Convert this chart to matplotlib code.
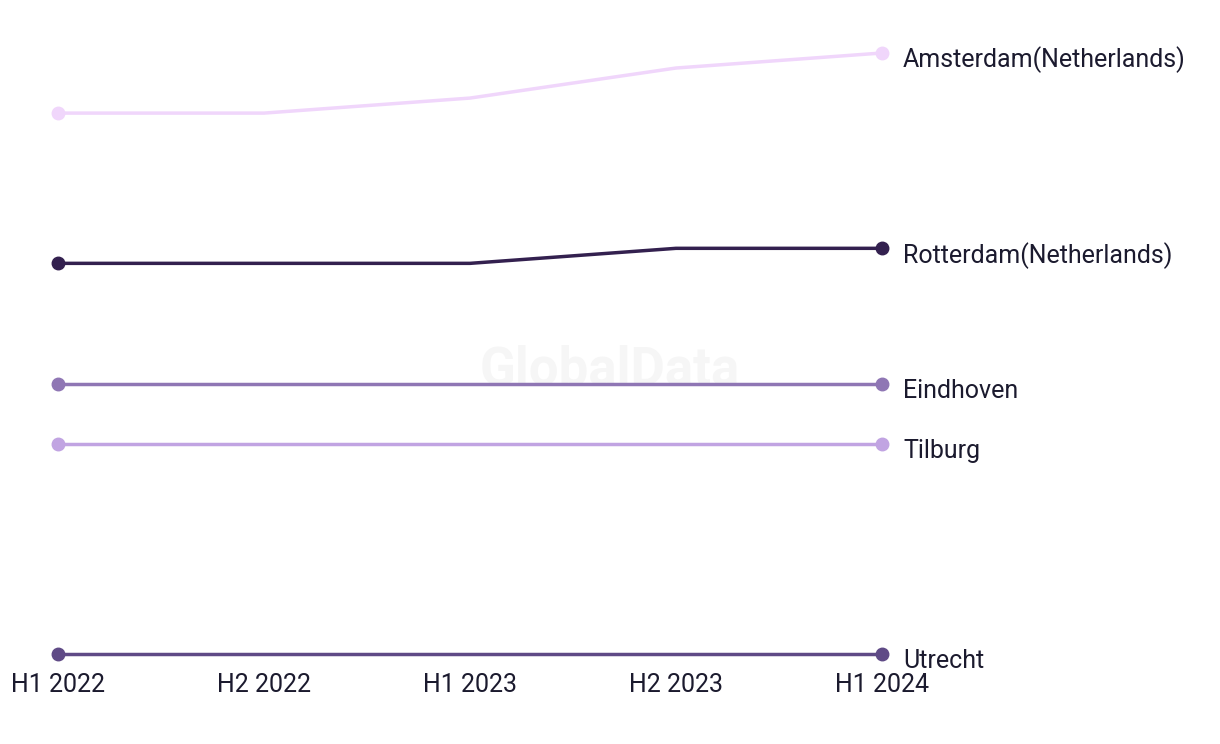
import matplotlib.pyplot as plt

periods = ["H1 2022", "H2 2022", "H1 2023", "H2 2023", "H1 2024"]

cities = ["Amsterdam(Netherlands)", "Rotterdam(Netherlands)", "Eindhoven", "Tilburg", "Utrecht"]
amsterdam = [36, 36, 37, 39, 40]
rotterdam = [26, 26, 26, 27, 27]
eindhoven = [18, 18, 18, 18, 18]
tilburg = [14, 14, 14, 14, 14]
utrecht = [0, 0, 0, 0, 0]
series = [amsterdam, rotterdam, eindhoven, tilburg, utrecht]
colors = ["#f0d6fb", "#33204f", "#8f76b4", "#c1a4e2", "#5f4a86"]

plt.rcParams['font.family'] = ['Roboto', 'DejaVu Sans']

fig = plt.figure(figsize=(12.2, 7.44), dpi=100)
W, H = 1220, 744
ax = fig.add_axes([58 / W, (H - 654) / H, 824 / W, 601 / H])

# watermark behind the lines
ax.text(610 / W, 1 - 370 / H, "GlobalData", transform=fig.transFigure, ha="center", va="center",
        fontsize=38, fontweight="bold", color="#f6f6f6", zorder=0)

x = list(range(len(periods)))
for name, vals, c in zip(cities, series, colors):
    ax.plot(x, vals, color=c, lw=2.5, marker="o", markersize=9, zorder=3,
            markevery=[0, len(x) - 1], clip_on=False, solid_capstyle="round")
    ax.annotate(name, xy=(x[-1], vals[-1]), xytext=(21, -7), textcoords="offset pixels",
                va="center", ha="left", fontsize=18, color="#1b1a2e")

ax.set_xlim(0, 4)
ax.set_ylim(0, 40)
ax.set_xticks(x)
ax.set_xticklabels(periods, fontsize=18, color="#1b1a2e")
ax.tick_params(axis="x", length=0, pad=14)
ax.set_yticks([])
for s in ax.spines.values():
    s.set_visible(False)

fig.savefig("out.png", dpi=100, facecolor="white")
